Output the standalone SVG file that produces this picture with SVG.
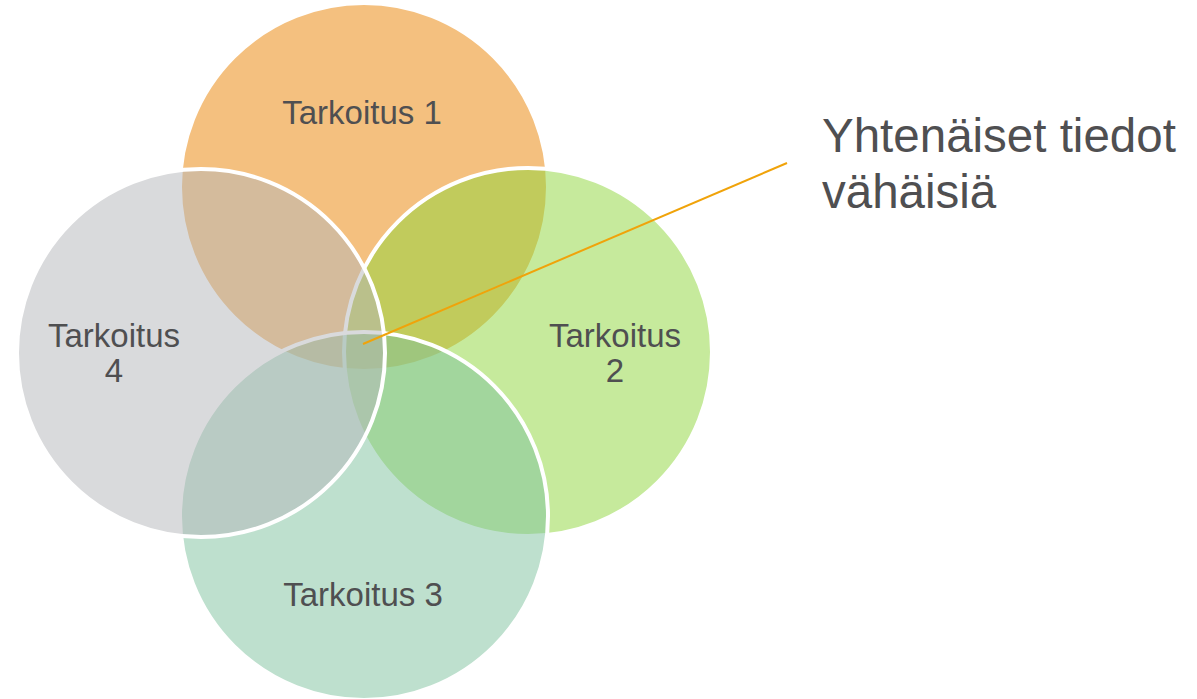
<svg xmlns="http://www.w3.org/2000/svg" width="1197" height="699" viewBox="0 0 1197 699">
<style>
.c{stroke:#FFFFFF;stroke-width:4;fill-opacity:0.5}
.t{font-family:"Liberation Sans",Arial,sans-serif;font-size:33px;fill:#4F4F51;text-anchor:middle}
.big{font-family:"Liberation Sans",Arial,sans-serif;font-size:47.5px;fill:#4F4F51}
</style>
<rect width="1197" height="699" fill="#FFFFFF"/>
<g id="node1"><circle class="c" cx="364" cy="187" r="184" fill="#E98100"/></g>
<g id="node2"><circle class="c" cx="528" cy="352" r="184" fill="#8DD539"/></g>
<g id="node3"><circle class="c" cx="364" cy="516" r="184" fill="#7DC19D"/></g>
<g id="node4"><circle class="c" cx="201" cy="353" r="184" fill="#B3B5B9"/></g>
<g id="labels">
<text class="t" x="362" y="124">Tarkoitus 1</text>
<text class="t" x="615" y="347">Tarkoitus</text>
<text class="t" x="615" y="382">2</text>
<text class="t" x="363" y="606">Tarkoitus 3</text>
<text class="t" x="114" y="347">Tarkoitus</text>
<text class="t" x="114" y="382">4</text>
</g>
<g id="connectors">
<line x1="363" y1="344" x2="787" y2="163" stroke="#F0A30A" stroke-width="2"/>
</g>
<g id="callout">
<text class="big" x="822" y="152">Yhtenäiset tiedot</text>
<text class="big" x="822" y="208">vähäisiä</text>
</g>
</svg>
